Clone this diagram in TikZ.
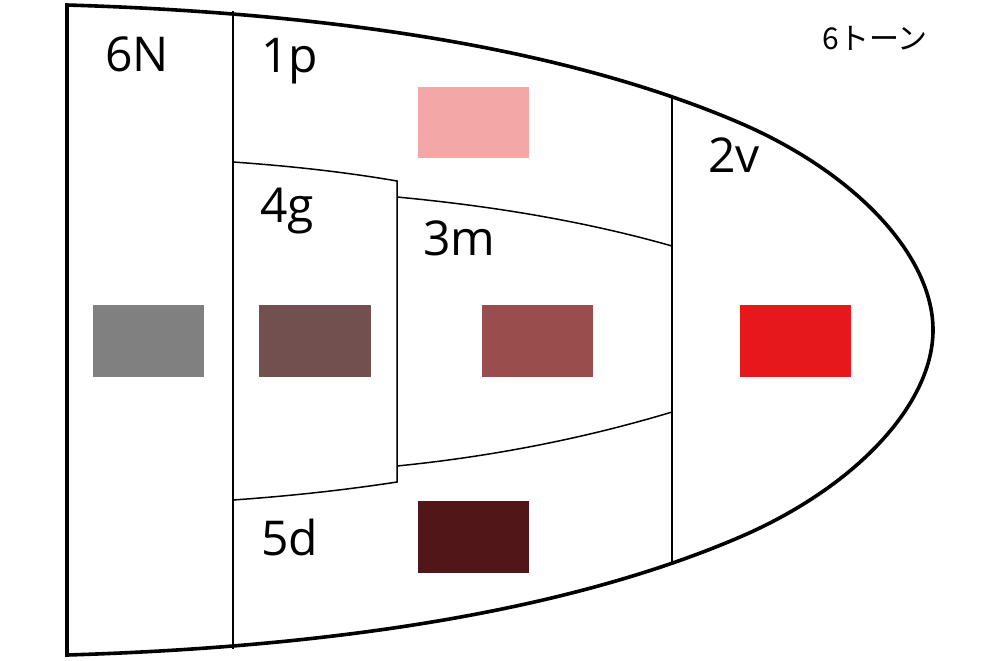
\documentclass[tikz,border=0pt]{standalone}
\usepackage{fontspec}
\setmainfont{Open Sans}
\newfontfamily\jpfont{Noto Sans CJK JP}
\definecolor{cgray}{RGB}{128,128,128}
\definecolor{cbrown}{RGB}{114,80,80}
\definecolor{cmid}{RGB}{154,77,77}
\definecolor{cred}{RGB}{230,24,28}
\definecolor{cpink}{RGB}{244,167,167}
\definecolor{cdark}{RGB}{80,22,24}
\begin{document}
\begin{tikzpicture}[x=0.5pt,y=-0.5pt,
  outline/.style={line width=1.8pt,line join=miter},
  inner/.style={line width=0.75pt},
  lbl/.style={anchor=base west,inner sep=0pt,font=\fontsize{24}{29}\selectfont},
  swatch/.style={inner sep=0pt}]
\useasboundingbox (0,0) rectangle (1000,660);
% named points
\coordinate (tl) at (67,5);
\coordinate (bl) at (67,655);
\coordinate (tip) at (933,330);
\coordinate (a1) at (233,11);
\coordinate (a2) at (233,649);
\coordinate (b1) at (672,97);
\coordinate (b2) at (672,562);
\coordinate (g1) at (233,162);
\coordinate (g2) at (397,181);
\coordinate (g3) at (397,482);
\coordinate (g4) at (233,500);
\coordinate (m1) at (397,197);
\coordinate (m2) at (672,246);
\coordinate (m3) at (397,466);
\coordinate (m4) at (672,412);
% swatches
\fill[cgray]  (93,305) rectangle (204,377);
\fill[cbrown] (259,305) rectangle (371,377);
\fill[cmid]   (482,305) rectangle (593,377);
\fill[cred]   (740,305) rectangle (851,377);
\fill[cpink]  (418,87) rectangle (529,158);
\fill[cdark]  (418,501) rectangle (529,573);
% inner lines
\draw[inner] (a1) -- (a2);
\draw[inner] (b1) -- (b2);
\draw[inner] (g1) .. controls (290,166) and (345,172) .. (g2) -- (g3)
  .. controls (345,490) and (290,496) .. (g4);
\draw[inner] (m1) .. controls (492,206) and (584,221) .. (m2);
\draw[inner] (m3) .. controls (492,456.5) and (584,438.5) .. (m4);
% outline
\draw[outline] (tl) .. controls (352,13.6) and (577,53) .. (740,123)
  .. controls (856,173) and (933,256) .. (tip)
  .. controls (933,404) and (856,487) .. (740,537)
  .. controls (577,607) and (352,646.4) .. (bl) -- cycle;
% labels
\node[lbl] (l6n) at (105,71) {6N};
\node[lbl] (l1p) at (261,72) {1p};
\node[lbl] (l4g) at (260,222) {4g};
\node[lbl] (l3m) at (423,255) {3m};
\node[lbl] (l2v) at (708,172) {2v};
\node[lbl] (l5d) at (261,555) {5d};
\node[anchor=base west,inner sep=0pt,font=\jpfont\fontsize{15}{17}\selectfont] (ton) at (822,49) {6トーン};
\end{tikzpicture}
\end{document}
